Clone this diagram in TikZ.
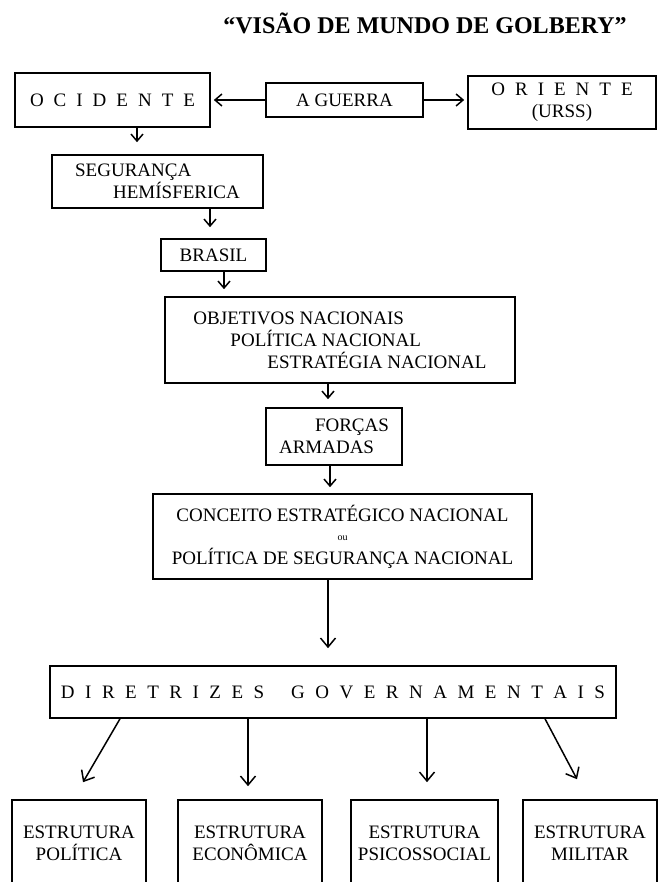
\documentclass[tikz,border=0pt]{standalone}
\usepackage{fontspec}
\setmainfont{Liberation Serif}
\usetikzlibrary{arrows.meta,calc}
\newcommand\bodyfont{\fontsize{19}{22}\selectfont}
\newcommand\lsp{\hspace{10pt}}
\newcommand\lspb{\hspace{10.5pt}}
\begin{document}
\begin{tikzpicture}[x=1pt,y=-1pt,
  box/.style={draw,line width=1.6pt,inner sep=0pt,font=\bodyfont,align=center},
  lbox/.style={box,align=left},
  arr/.style={line width=1.5pt,-{Straight Barb[length=7pt,width=12pt,line width=1.5pt]}},
  bigarr/.style={line width=1.5pt,-{Straight Barb[length=9pt,width=15pt,line width=1.5pt]}}]
\useasboundingbox (0,0) rectangle (658,882);

\node[font=\bfseries\fontsize{24}{28}\selectfont] (title) at (425,23) {“VISÃO DE MUNDO DE GOLBERY”};

\node[box,minimum width=195pt,minimum height=54pt] (oc) at (112.5,100) {O\lsp C\lsp I\lsp D\lsp E\lsp N\lsp T\lsp E};
\node[box,minimum width=157pt,minimum height=34pt] (gu) at (344.5,100) {A GUERRA};
\node[box,minimum width=188pt,minimum height=53pt] (or) at (562,102.5) {O\lsp R\lsp I\lsp E\lsp N\lsp T\lsp E\\(URSS)};
\node[lbox,minimum width=211pt,minimum height=53pt] (seg) at (157.5,181.5) {SEGURANÇA\\\hspace*{38pt}HEMÍSFERICA};
\node[box,minimum width=105pt,minimum height=32pt] (br) at (213.5,255) {BRASIL};
\node[lbox,minimum width=350pt,minimum height=86pt] (obj) at (340,340) {OBJETIVOS NACIONAIS\\\hspace*{37pt}POLÍTICA NACIONAL\\\hspace*{74pt}ESTRATÉGIA NACIONAL};
\node[lbox,minimum width=136pt,minimum height=57pt] (fa) at (334,436.5) {\hspace*{36pt}FORÇAS\\ARMADAS};
\node[box,minimum width=379pt,minimum height=85pt] (con) at (342.5,536.5) {CONCEITO ESTRATÉGICO NACIONAL\\[-3pt]{\fontsize{10}{12}\selectfont ou}\\[2pt]POLÍTICA DE SEGURANÇA NACIONAL};
\node[box,minimum width=566pt,minimum height=52pt] (dir) at (333,692) {D\lspb I\lspb R\lspb E\lspb T\lspb R\lspb I\lspb Z\lspb E\lspb S\hspace{27pt}G\lspb O\lspb V\lspb E\lspb R\lspb N\lspb A\lspb M\lspb E\lspb N\lspb T\lspb A\lspb I\lspb S};

\node[box,minimum width=134pt,minimum height=87pt] (b1) at (79,843.5) {ESTRUTURA\\POLÍTICA};
\node[box,minimum width=144pt,minimum height=87pt] (b2) at (250,843.5) {ESTRUTURA\\ECONÔMICA};
\node[box,minimum width=147pt,minimum height=87pt] (b3) at (424.5,843.5) {ESTRUTURA\\PSICOSSOCIAL};
\node[box,minimum width=134pt,minimum height=87pt] (b4) at (590,843.5) {ESTRUTURA\\MILITAR};

\draw[arr] (gu.west) -- ($(oc.east)+(3,0)$);
\draw[arr] (gu.east) -- ($(gu.east -| or.west)+(-3,0)$);
\draw[arr] ($(oc.south)+(24.5,0)$) -- ($(seg.north)+(-20.5,-12)$);
\draw[arr] ($(seg.south)+(52.5,0)$) -- ($(br.north)+(-3.5,-11)$);
\draw[arr] ($(br.south)+(10.5,0)$) -- ($(obj.north)+(-116,-7)$);
\draw[arr] ($(obj.south)+(-12,0)$) -- ($(fa.north)+(-6,-8)$);
\draw[arr] ($(fa.south)+(-4,0)$) -- ($(con.north)+(-12.5,-6)$);
\draw[bigarr] ($(con.south)+(-14.5,0)$) -- ($(dir.north)+(-5,-17)$);
\draw[bigarr] ($(dir.south)+(-213,0)$) -- ($(b1.north)+(4,-17)$);
\draw[bigarr] ($(dir.south)+(-85,0)$) -- ($(b2.north)+(-2,-13)$);
\draw[bigarr] ($(dir.south)+(94,0)$) -- ($(b3.north)+(2.5,-17)$);
\draw[bigarr] ($(dir.south)+(212,0)$) -- ($(b4.north)+(-13,-20)$);
\end{tikzpicture}
\end{document}
